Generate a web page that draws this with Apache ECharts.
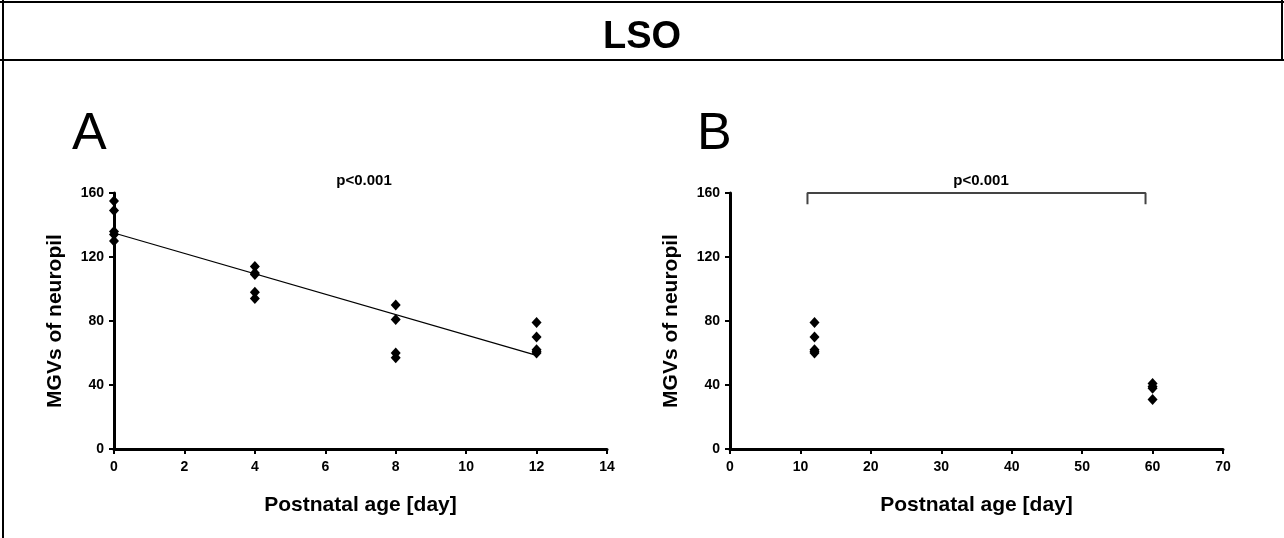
<!DOCTYPE html>
<html>
<head>
<meta charset="utf-8">
<script src="https://cdn.jsdelivr.net/npm/echarts@6/dist/echarts.min.js"></script>
<style>
  html, body { margin: 0; padding: 0; background: #fff; }
  #chart { width: 1284px; height: 538px; }
</style>
</head>
<body>
<div id="chart"></div>
<script>
// panel A: postnatal day 0..12
const daysA = [0, 4, 8, 12]
const valuesA = [
    [155, 149, 136, 134, 130],
    [114, 110, 109, 98, 94],
    [90, 81, 60, 57],
    [79, 70, 62, 61, 60]
]
const trendA = [[0, 135], [12, 58.5]]

// panel B: day 12 vs day 60
const daysB = [12, 60]
const valuesB = [
    [79, 70, 62, 61, 60],
    [41, 39, 38, 31]
]
const bracketB = [[11, 153], [11, 160], [59, 160], [59, 153]]

const yTicks = [0, 40, 80, 120, 160]

const toPoints = (days, values) =>
    days.flatMap((d, i) => values[i].map(v => [d, v]))

const font = 'Liberation Sans, Arial, sans-serif'

const xAxisBase = (max, interval) => ({
    type: 'value',
    min: 0,
    max: max,
    interval: interval,
    name: 'Postnatal age [day]',
    nameLocation: 'middle',
    nameGap: 46,
    nameTextStyle: { fontFamily: font, fontWeight: 'bold', fontSize: 21, color: '#000' },
    axisLine: { show: true, lineStyle: { color: '#000', width: 3 } },
    axisTick: { show: true, length: 5, lineStyle: { color: '#000', width: 2 } },
    axisLabel: { fontFamily: font, fontWeight: 'bold', fontSize: 14, color: '#000', margin: 11 },
    splitLine: { show: false }
})

const yAxisBase = () => ({
    type: 'value',
    min: yTicks[0],
    max: yTicks[yTicks.length - 1],
    interval: 40,
    name: 'MGVs of neuropil',
    nameLocation: 'middle',
    nameGap: 48,
    nameTextStyle: { fontFamily: font, fontWeight: 'bold', fontSize: 21, color: '#000' },
    axisLine: { show: true, lineStyle: { color: '#000', width: 3 } },
    axisTick: { show: true, length: 5, lineStyle: { color: '#000', width: 2 } },
    axisLabel: { fontFamily: font, fontWeight: 'bold', fontSize: 14, color: '#000', margin: 10 },
    splitLine: { show: false }
})

const myChart = echarts.init(document.getElementById('chart'))
const option = {
    backgroundColor: '#fff',
    animation: false,
    title: [
        { text: 'LSO', left: 'center', top: 14, textStyle: { fontFamily: font, fontWeight: 'bold', fontSize: 38, color: '#000' } },
        { text: 'A', left: 67, top: 104, textStyle: { fontFamily: font, fontWeight: 'normal', fontSize: 52, color: '#000' } },
        { text: 'B', left: 692, top: 104, textStyle: { fontFamily: font, fontWeight: 'normal', fontSize: 52, color: '#000' } },
        { text: 'p<0.001', left: 359, top: 168, textAlign: 'center', textStyle: { fontFamily: font, fontWeight: 'bold', fontSize: 15, color: '#000' } },
        { text: 'p<0.001', left: 976, top: 168, textAlign: 'center', textStyle: { fontFamily: font, fontWeight: 'bold', fontSize: 15, color: '#000' } }
    ],
    graphic: [
        { type: 'line', shape: { x1: 0, y1: 2, x2: 1284, y2: 2 }, style: { stroke: '#000', lineWidth: 2 } },
        { type: 'line', shape: { x1: 0, y1: 60, x2: 1284, y2: 60 }, style: { stroke: '#000', lineWidth: 2 } },
        { type: 'line', shape: { x1: 3, y1: 0, x2: 3, y2: 538 }, style: { stroke: '#000', lineWidth: 2 } },
        { type: 'line', shape: { x1: 1282, y1: 0, x2: 1282, y2: 60 }, style: { stroke: '#000', lineWidth: 2 } }
    ],
    grid: [
        { left: 114, right: 677, top: 193, bottom: 89 },
        { left: 730, right: 61, top: 193, bottom: 89 }
    ],
    xAxis: [
        Object.assign(xAxisBase(14, 2), { gridIndex: 0 }),
        Object.assign(xAxisBase(70, 10), { gridIndex: 1 })
    ],
    yAxis: [
        Object.assign(yAxisBase(), { gridIndex: 0 }),
        Object.assign(yAxisBase(), { gridIndex: 1 })
    ],
    series: [
        {
            type: 'line',
            xAxisIndex: 0, yAxisIndex: 0,
            data: trendA,
            symbol: 'none',
            lineStyle: { color: '#000', width: 1.3 },
            z: 2
        },
        {
            type: 'scatter',
            xAxisIndex: 0, yAxisIndex: 0,
            data: toPoints(daysA, valuesA),
            symbol: 'diamond',
            symbolSize: [10, 11],
            itemStyle: { color: '#000', opacity: 1 },
            z: 3
        },
        {
            type: 'line',
            xAxisIndex: 1, yAxisIndex: 1,
            data: bracketB,
            symbol: 'none',
            lineStyle: { color: '#444', width: 2 },
            z: 2
        },
        {
            type: 'scatter',
            xAxisIndex: 1, yAxisIndex: 1,
            data: toPoints(daysB, valuesB),
            symbol: 'diamond',
            symbolSize: [10, 11],
            itemStyle: { color: '#000', opacity: 1 },
            z: 3
        }
    ]
}
myChart.setOption(option)
</script>
</body>
</html>
